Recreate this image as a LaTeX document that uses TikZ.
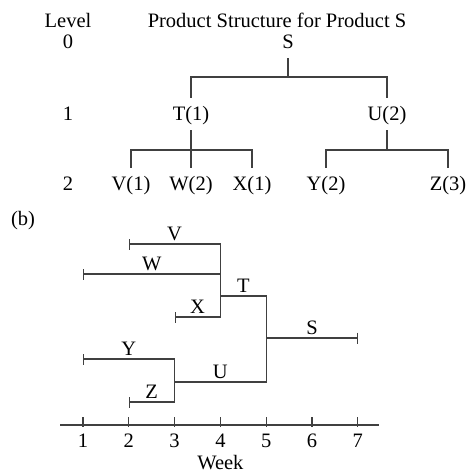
\documentclass[tikz,border=0pt]{standalone}
\usepackage{fontspec}
\setmainfont{Liberation Serif}
\usetikzlibrary{arrows.meta}
\newcommand{\bomfont}{\fontsize{20.5}{23}\selectfont}
\tikzset{
    bom/chart/.style={font=\bomfont, x=1pt, y=-1pt, every node/.style={inner sep=0pt, text height=15pt, text depth=5pt}},
    bom/line/.style={draw=black!75, line width=1.1pt},
    bom/link/.style={bom/line, shorten <=5pt, shorten >=7pt},
    bom/bars/.style={bom/line, {Bar[width=11pt]}-{Bar[width=11pt]}},
    bom/final/.style={bom/line, -{Bar[width=11pt]}},
    bom/tag/.style={midway, above, inner sep=3pt, text depth=0pt}
}

\begin{document}
\begin{tikzpicture}[bom/chart]
    \useasboundingbox (0,0) rectangle (468,475);
    % (a) product structure
    \node (level) at (68,22) {Level};
    \node (title) at (277,22) {Product Structure for Product S};
    \foreach \lvl/\y in {0/43,1/115,2/185}
        \node (lvl\lvl) at (68,\y) {\lvl};
    \node (S) at (288,43) {S};
    \node (T) at (191,115) {T(1)};
    \node (U) at (387,115) {U(2)};
    \node (V) at (131,185) {V(1)};
    \node (W) at (191,185) {W(2)};
    \node (X) at (252,185) {X(1)};
    \node (Y) at (326,185) {Y(2)};
    \node (Z) at (448,185) {Z(3)};
    \coordinate (S-bar) at (288,77);
    \coordinate (T-bar) at (191,150);
    \coordinate (U-bar) at (387,150);
    \foreach \parent/\child in {S/T,S/U,T/V,T/W,T/X,U/Y,U/Z}
        \draw[bom/link] (\parent.south) -- (\parent-bar) -| (\child.north);
    % (b) assembly time chart
    \node (b) at (23,220) {(b)};
    \begin{scope}[x=45.8pt, xshift=37.2pt]
        \draw[bom/bars] (2,244) -- node[bom/tag] (tagV) {V} (4,244) -- (4,317) -- node[bom/tag] (tagX) {X} (3,317);
        \draw[bom/line, {Bar[width=11pt]}-] (1,274) -- node[bom/tag] (tagW) {W} (4,274);
        \draw[bom/line] (4,296) -- node[bom/tag] (tagT) {T} (5,296) -- (5,382) -- node[bom/tag] (tagU) {U} (3,382);
        \draw[bom/final] (5,338) -- node[bom/tag] (tagS) {S} (7,338);
        \draw[bom/bars] (1,359) -- node[bom/tag] (tagY) {Y} (3,359) -- (3,402) -- node[bom/tag] (tagZ) {Z} (2,402);
        % week axis
        \draw[bom/line] (0.5,425) -- (7.46,425);
        \foreach \w in {1,...,7} {
            \draw[bom/line] (\w,417) -- (\w,427);
            \node (wk\w) at (\w,442) {\w};
        }
        \node (week) at (4,464) {Week};
    \end{scope}
\end{tikzpicture}
\end{document}
